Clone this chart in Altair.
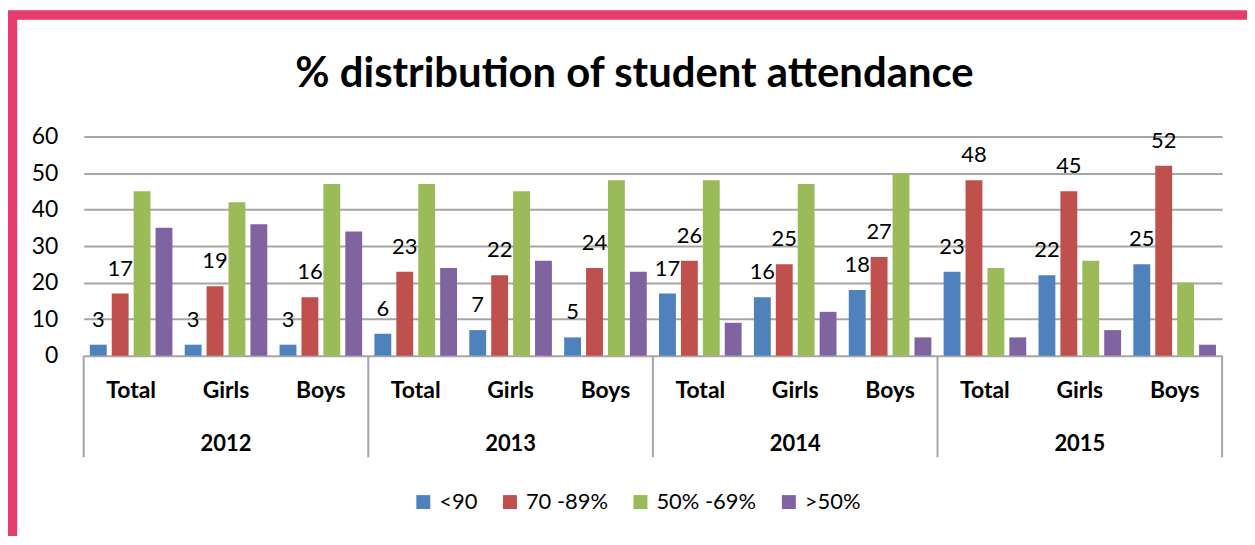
import altair as alt
import pandas as pd

title_text = ["% distribution of student attendance"]
years = ["2012", "2013", "2014", "2015"]
genders = ["Total", "Girls", "Boys"]
series = ["<90", "70 -89%", "50% -69%", ">50%"]
colors = ["#4F81BD", "#C0504D", "#9BBB59", "#8064A2"]

# values in order: 2012 Total, Girls, Boys, 2013 Total, ... 2015 Boys
lt90 = [3, 3, 3, 6, 7, 5, 17, 16, 18, 23, 22, 25]
r70_89 = [17, 19, 16, 23, 22, 24, 26, 25, 27, 48, 45, 52]
r50_69 = [45, 42, 47, 47, 45, 48, 48, 47, 50, 24, 26, 20]
gt50 = [35, 36, 34, 24, 26, 23, 9, 12, 5, 5, 7, 3]
labeled_series = ["<90", "70 -89%"]

keys = [f"{y} {g}" for y in years for g in genders]
rows = []
for s, vals in zip(series, [lt90, r70_89, r50_69, gt50]):
    for k, v in zip(keys, vals):
        rows.append({"key": k, "series": s, "value": v})
df = pd.DataFrame(rows)

W, H = 1143, 220
FONT = "Lato"
GRID = "#A6A6A6"

xscale = alt.Scale(domain=keys, paddingInner=0, paddingOuter=0)
xaxis = alt.Axis(labelExpr="split(datum.label, ' ')[1]", labelAngle=0,
                 domain=False, ticks=False, labelFontSize=23, title=None,
                 labelFontWeight="bold", labelFont=FONT, labelColor="#000",
                 labelPadding=24, labelOverlap=False, grid=False)
xoff = alt.XOffset("series:N", sort=series,
                   scale=alt.Scale(paddingInner=0.23, paddingOuter=0.28))
yaxis = alt.Axis(values=[0, 10, 20, 30, 40, 50, 60], domain=False, ticks=False,
                 labelPadding=26, gridColor=GRID, gridWidth=2, title=None,
                 labelFontSize=23, labelFont=FONT, labelColor="#000",
                 labelOverlap=False)

bars = alt.Chart(df).mark_bar().encode(
    x=alt.X("key:N", scale=xscale, axis=xaxis),
    xOffset=xoff,
    y=alt.Y("value:Q", scale=alt.Scale(domain=[0, 60]), axis=yaxis),
    color=alt.Color("series:N", sort=series,
                    scale=alt.Scale(domain=series, range=colors),
                    legend=alt.Legend(orient="none", legendX=330, legendY=356,
                                      direction="horizontal", title=None,
                                      symbolType="square", symbolSize=196,
                                      symbolStrokeWidth=0, labelFontSize=22,
                                      labelFont=FONT, labelColor="#000",
                                      columnPadding=21, labelOffset=5)),
)

labels = alt.Chart(df).transform_filter(
    alt.FieldOneOfPredicate(field="series", oneOf=labeled_series)
).mark_text(baseline="alphabetic", dy=-18, fontSize=22, font=FONT, color="#000").encode(
    x=alt.X("key:N", scale=xscale, axis=xaxis),
    xOffset=xoff,
    y=alt.Y("value:Q", axis=yaxis),
    text=alt.Text("value:Q"),
)

sep_df = pd.DataFrame({"key": [f"{y} Total" for y in years]})
seps = alt.Chart(sep_df).mark_rule(color=GRID, strokeWidth=2).encode(
    x=alt.X("key:N", scale=xscale, axis=xaxis, bandPosition=0),
    y=alt.value(H), y2=alt.value(H + 102),
)
end_df = pd.DataFrame({"key": [keys[-1]]})
end_sep = alt.Chart(end_df).mark_rule(color=GRID, strokeWidth=2).encode(
    x=alt.X("key:N", scale=xscale, axis=xaxis, bandPosition=1),
    y=alt.value(H), y2=alt.value(H + 102),
)

year_df = pd.DataFrame({"key": [f"{y} Girls" for y in years], "year": years})
year_text = alt.Chart(year_df).mark_text(
    baseline="middle", fontSize=22, fontWeight="bold", font=FONT, color="#000"
).encode(
    x=alt.X("key:N", scale=xscale, axis=xaxis),
    y=alt.value(H + 89),
    text="year:N",
)

title = alt.Chart(pd.DataFrame({"t": title_text})).mark_text(
    baseline="alphabetic", align="center", fontSize=42, fontWeight="bold",
    font=FONT, color="#000"
).encode(x=alt.value(553), y=alt.value(-50), text="t:N")

border = alt.Chart(pd.DataFrame({"a": [0]})).mark_rect(
    fillOpacity=0, stroke="#E53B6D", strokeWidth=9.5
).encode(
    x=alt.value(-71.5), x2=alt.value(1300),
    y=alt.value(-122), y2=alt.value(420),
)

chart = alt.layer(border, bars, labels, seps, end_sep, year_text, title).properties(
    width=W, height=H,
    autosize=alt.AutoSizeParams(type="none"),
    padding={"left": 76, "top": 128, "right": 25, "bottom": 180},
    background="white",
).configure_view(stroke=None)

chart.save("out.html", embed_options={"renderer": "svg", "actions": False})
